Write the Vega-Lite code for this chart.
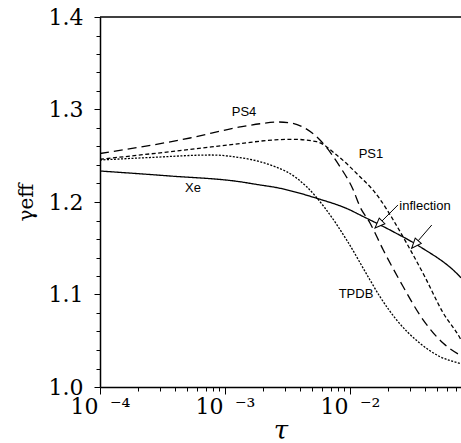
{
  "$schema": "https://vega.github.io/schema/vega-lite/v6.json",
  "width": 361,
  "height": 370,
  "autosize": {"type": "none"},
  "padding": {"left": 100, "top": 17, "right": 0, "bottom": 56},
  "background": "white",
  "config": {
    "view": {"stroke": null},
    "axis": {"grid": false, "domainColor": "black", "tickColor": "black", "labelColor": "black", "titleColor": "black", "tickWidth": 1}
  },
  "datasets": {
    "curves": [
      {"s": "Xe", "t": 0.0001, "g": 1.2335},
      {"s": "Xe", "t": 0.000363, "g": 1.2281},
      {"s": "Xe", "t": 0.001318, "g": 1.2219},
      {"s": "Xe", "t": 0.001905, "g": 1.2184},
      {"s": "Xe", "t": 0.002512, "g": 1.2159},
      {"s": "Xe", "t": 0.00542, "g": 1.204},
      {"s": "Xe", "t": 0.01, "g": 1.1914},
      {"s": "Xe", "t": 0.012023, "g": 1.186},
      {"s": "Xe", "t": 0.022182, "g": 1.1679},
      {"s": "Xe", "t": 0.036308, "g": 1.1517},
      {"s": "Xe", "t": 0.075858, "g": 1.1192},
      {"s": "Xe", "t": 0.0773, "g": 1.118},
      {"s": "PS4", "t": 0.0001, "g": 1.2524},
      {"s": "PS4", "t": 0.000525, "g": 1.2692},
      {"s": "PS4", "t": 0.001318, "g": 1.2811},
      {"s": "PS4", "t": 0.001905, "g": 1.2846},
      {"s": "PS4", "t": 0.002655, "g": 1.2865},
      {"s": "PS4", "t": 0.003436, "g": 1.2852},
      {"s": "PS4", "t": 0.00423, "g": 1.2808},
      {"s": "PS4", "t": 0.005754, "g": 1.267},
      {"s": "PS4", "t": 0.008318, "g": 1.2382},
      {"s": "PS4", "t": 0.010627, "g": 1.213},
      {"s": "PS4", "t": 0.012023, "g": 1.1949},
      {"s": "PS4", "t": 0.014454, "g": 1.1773},
      {"s": "PS4", "t": 0.018464, "g": 1.1481},
      {"s": "PS4", "t": 0.025119, "g": 1.1146},
      {"s": "PS4", "t": 0.038593, "g": 1.0724},
      {"s": "PS4", "t": 0.055784, "g": 1.0472},
      {"s": "PS4", "t": 0.075858, "g": 1.0346},
      {"s": "PS4", "t": 0.0773, "g": 1.034},
      {"s": "PS1", "t": 0.0001, "g": 1.2462},
      {"s": "PS1", "t": 0.000525, "g": 1.2568},
      {"s": "PS1", "t": 0.001318, "g": 1.2632},
      {"s": "PS1", "t": 0.002512, "g": 1.2672},
      {"s": "PS1", "t": 0.003518, "g": 1.2678},
      {"s": "PS1", "t": 0.00542, "g": 1.2652},
      {"s": "PS1", "t": 0.007826, "g": 1.2508},
      {"s": "PS1", "t": 0.012023, "g": 1.2273},
      {"s": "PS1", "t": 0.015364, "g": 1.2125},
      {"s": "PS1", "t": 0.017378, "g": 1.203},
      {"s": "PS1", "t": 0.022202, "g": 1.1805},
      {"s": "PS1", "t": 0.02841, "g": 1.1554},
      {"s": "PS1", "t": 0.039811, "g": 1.1189},
      {"s": "PS1", "t": 0.055081, "g": 1.0811},
      {"s": "PS1", "t": 0.075858, "g": 1.0530},
      {"s": "PS1", "t": 0.0773, "g": 1.051},
      {"s": "TPDB", "t": 0.0001, "g": 1.2454},
      {"s": "TPDB", "t": 0.000251, "g": 1.2481},
      {"s": "TPDB", "t": 0.000783, "g": 1.2508},
      {"s": "TPDB", "t": 0.001271, "g": 1.2483},
      {"s": "TPDB", "t": 0.001905, "g": 1.2436},
      {"s": "TPDB", "t": 0.002512, "g": 1.2382},
      {"s": "TPDB", "t": 0.003115, "g": 1.2328},
      {"s": "TPDB", "t": 0.004504, "g": 1.2165},
      {"s": "TPDB", "t": 0.00631, "g": 1.1935},
      {"s": "TPDB", "t": 0.00941, "g": 1.1589},
      {"s": "TPDB", "t": 0.014454, "g": 1.1157},
      {"s": "TPDB", "t": 0.017378, "g": 1.0976},
      {"s": "TPDB", "t": 0.023636, "g": 1.0724},
      {"s": "TPDB", "t": 0.036308, "g": 1.0472},
      {"s": "TPDB", "t": 0.052481, "g": 1.0328},
      {"s": "TPDB", "t": 0.075858, "g": 1.0256},
      {"s": "TPDB", "t": 0.0773, "g": 1.0253}
    ],
    "labels": [
      {"label": "PS4", "t": 0.001419, "g": 1.2973},
      {"label": "PS1", "t": 0.014723, "g": 1.2519},
      {"label": "Xe", "t": 0.000555, "g": 1.2151},
      {"label": "inflection", "t": 0.039811, "g": 1.1957},
      {"label": "TPDB", "t": 0.011169, "g": 1.1005}
    ],
    "arrows": [
      {"id": 1, "t": 0.0242, "g": 1.1968},
      {"id": 1, "t": 0.01585, "g": 1.1719},
      {"id": 2, "t": 0.0451, "g": 1.1751},
      {"id": 2, "t": 0.03116, "g": 1.15}
    ],
    "heads": [
      {"t": 0.01585, "g": 1.1719, "a": 135},
      {"t": 0.03116, "g": 1.15, "a": 131}
    ],
    "frame": [{"g": 1.4}]
  },
  "resolve": {"axis": {"x": "independent", "y": "independent"}},
  "layer": [
    {
      "data": {"name": "curves"},
      "mark": {"type": "line", "color": "black", "strokeWidth": 1.3, "clip": true, "interpolate": "monotone"},
      "encoding": {
        "x": {
          "field": "t", "type": "quantitative",
          "scale": {"type": "log", "domain": [0.0001, 0.0773], "nice": false},
          "axis": {
            "orient": "bottom",
            "values": [0.0001, 0.001, 0.01],
            "labelExpr": "datum.value < 0.0005 ? '10 \u2009\u207b\u2074' : datum.value < 0.005 ? '10 \u2009\u207b\u00b3' : '10 \u2009\u207b\u00b2'",
            "labelFont": "DejaVu Serif", "labelFontSize": 22, "labelPadding": 2, "labelFlush": false, "labelOverlap": false,
            "tickSize": 7, "domainWidth": 1.5,
            "title": "\u03c4", "titleFont": "DejaVu Serif", "titleFontStyle": "italic", "titleFontWeight": "normal", "titleFontSize": 26, "titlePadding": 0
          }
        },
        "y": {
          "field": "g", "type": "quantitative",
          "scale": {"domain": [1.0, 1.4], "nice": false, "zero": false},
          "axis": {
            "orient": "left",
            "values": [1.0, 1.1, 1.2, 1.3, 1.4],
            "format": ".1f",
            "labelFont": "DejaVu Serif", "labelFontSize": 22, "labelPadding": 11,
            "tickSize": 6, "domainWidth": 1.5,
            "title": "\u03b3eff", "titleFont": "DejaVu Serif", "titleFontWeight": "normal", "titleFontSize": 20, "titlePadding": 12
          }
        },
        "strokeDash": {
          "field": "s", "type": "nominal",
          "scale": {"domain": ["Xe", "PS4", "PS1", "TPDB"], "range": [[1, 0], [9, 5], [4, 2.5], [2, 1.5]]},
          "legend": null
        }
      }
    },
    {
      "data": {"name": "curves"},
      "mark": {"type": "point", "opacity": 0},
      "encoding": {
        "x": {
          "field": "t", "type": "quantitative",
          "axis": {
            "orient": "bottom",
            "values": [0.0002, 0.0003, 0.0004, 0.0005, 0.0006, 0.0007, 0.0008, 0.0009, 0.002, 0.003, 0.004, 0.005, 0.006, 0.007, 0.008, 0.009, 0.02, 0.03, 0.04, 0.05, 0.06, 0.07],
            "labels": false, "domain": false, "tickSize": 4, "title": null
          }
        },
        "y": {
          "field": "g", "type": "quantitative",
          "axis": {
            "orient": "left",
            "values": [1.02, 1.04, 1.06, 1.08, 1.12, 1.14, 1.16, 1.18, 1.22, 1.24, 1.26, 1.28, 1.32, 1.34, 1.36, 1.38],
            "labels": false, "domain": false, "tickSize": 4, "title": null
          }
        }
      }
    },
    {
      "data": {"name": "frame"},
      "mark": {"type": "rule", "color": "black", "strokeWidth": 1.6},
      "encoding": {
        "y": {"field": "g", "type": "quantitative", "axis": null}
      }
    },
    {
      "data": {"name": "arrows"},
      "mark": {"type": "line", "color": "black", "strokeWidth": 1},
      "encoding": {
        "x": {"field": "t", "type": "quantitative", "axis": null},
        "y": {"field": "g", "type": "quantitative", "axis": null},
        "detail": {"field": "id", "type": "nominal"}
      }
    },
    {
      "data": {"name": "heads"},
      "mark": {"type": "point", "shape": "M0,0L-2,-0.8L-2,0.8Z", "size": 100, "filled": true, "fill": "white", "stroke": "black", "strokeWidth": 1, "opacity": 1},
      "encoding": {
        "x": {"field": "t", "type": "quantitative", "axis": null},
        "y": {"field": "g", "type": "quantitative", "axis": null},
        "angle": {"field": "a", "type": "quantitative", "scale": null}
      }
    },
    {
      "data": {"name": "labels"},
      "mark": {"type": "text", "font": "Liberation Sans", "fontSize": 13, "color": "black", "align": "center", "baseline": "middle"},
      "encoding": {
        "x": {"field": "t", "type": "quantitative", "axis": null},
        "y": {"field": "g", "type": "quantitative", "axis": null},
        "text": {"field": "label", "type": "nominal"}
      }
    }
  ]
}
